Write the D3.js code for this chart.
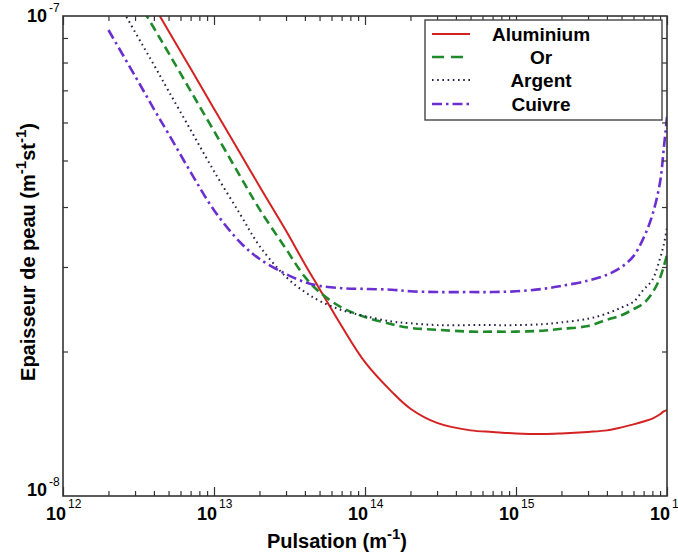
<!DOCTYPE html>
<html>
<head>
<meta charset="utf-8">
<script src="https://cdn.jsdelivr.net/npm/d3@7"></script>
<style>
  html, body { margin: 0; padding: 0; background: #fff; }
  svg { display: block; }
  text { font-family: "Liberation Sans", Arial, Helvetica, sans-serif; }
</style>
</head>
<body>
<svg id="chart" width="678" height="556"></svg>
<script>
// ---------- data ----------
const pulsation = [2e12, 3e12, 4e12, 5e12, 7e12, 1e13, 1.5e13, 2e13, 3e13, 4e13, 5e13, 7e13,
  1e14, 1.5e14, 2e14, 3e14, 5e14, 7e14, 1e15, 1.5e15, 2e15, 3e15, 4e15, 5e15, 6e15, 7e15,
  8e15, 9e15, 9.5e15, 1e16];

const aluminium = [1.53e-7, 1.23e-7, 1.05e-7, 9.31e-8, 7.77e-8, 6.41e-8, 5.16e-8, 4.42e-8,
  3.57e-8, 3.04e-8, 2.70e-8, 2.26e-8, 1.90e-8, 1.65e-8, 1.52e-8, 1.42e-8, 1.37e-8, 1.36e-8,
  1.35e-8, 1.346e-8, 1.35e-8, 1.36e-8, 1.37e-8, 1.39e-8, 1.41e-8, 1.43e-8, 1.45e-8, 1.48e-8,
  1.50e-8, 1.51e-8];

const or = [1.37e-7, 1.10e-7, 9.44e-8, 8.38e-8, 6.98e-8, 5.76e-8, 4.62e-8, 3.96e-8, 3.27e-8,
  2.86e-8, 2.66e-8, 2.47e-8, 2.36e-8, 2.28e-8, 2.24e-8, 2.22e-8, 2.20e-8, 2.20e-8, 2.20e-8,
  2.21e-8, 2.23e-8, 2.26e-8, 2.33e-8, 2.38e-8, 2.45e-8, 2.52e-8, 2.65e-8, 2.85e-8, 3.00e-8,
  3.18e-8];

const argent = [1.16e-7, 9.26e-8, 7.91e-8, 6.98e-8, 5.79e-8, 4.75e-8, 3.85e-8, 3.32e-8,
  2.86e-8, 2.66e-8, 2.55e-8, 2.44e-8, 2.37e-8, 2.31e-8, 2.29e-8, 2.27e-8, 2.27e-8, 2.27e-8,
  2.27e-8, 2.28e-8, 2.30e-8, 2.34e-8, 2.40e-8, 2.47e-8, 2.54e-8, 2.69e-8, 2.82e-8, 3.13e-8,
  3.33e-8, 3.62e-8];

const cuivre = [9.35e-8, 7.50e-8, 6.40e-8, 5.68e-8, 4.73e-8, 3.94e-8, 3.37e-8, 3.12e-8,
  2.90e-8, 2.79e-8, 2.74e-8, 2.71e-8, 2.70e-8, 2.69e-8, 2.67e-8, 2.66e-8, 2.66e-8, 2.66e-8,
  2.67e-8, 2.70e-8, 2.74e-8, 2.81e-8, 2.89e-8, 3.00e-8, 3.16e-8, 3.45e-8, 3.85e-8, 4.51e-8,
  5.26e-8, 6.16e-8];

const seriesNames = ["Aluminium", "Or", "Argent", "Cuivre"];
const xMajorExponents = [12, 13, 14, 15, 16];
const yMajorExponents = [-8, -7];
const xTitle = "Pulsation (m";
const xTitleSup = "-1";
const yTitleParts = ["Epaisseur de peau (m", "-1", "st", "-1", ")"];

// ---------- layout ----------
const svg = d3.select("#chart");
const m = { left: 63, right: 667, top: 16, bottom: 496 };

const x = d3.scaleLog().domain([1e12, 1e16]).range([m.left, m.right]);
const y = d3.scaleLog().domain([1e-8, 1e-7]).range([m.bottom, m.top]);

const styles = [
  { color: "#d42121", width: 2.0, dash: null },
  { color: "#1e8a2a", width: 2.6, dash: "9,5" },
  { color: "#23234a", width: 2.0, dash: "1.6,3.6" },
  { color: "#6b2fd1", width: 2.6, dash: "10,4,2.5,4" }
];
const seriesValues = [aluminium, or, argent, cuivre];

// minor tick values
const xMinor = [];
for (let e = 12; e < 16; e++) for (let k = 2; k <= 9; k++) xMinor.push(k * Math.pow(10, e));
const yMinor = [];
for (let k = 2; k <= 9; k++) yMinor.push(k * 1e-8);
const xMajor = xMajorExponents.map(e => Math.pow(10, e));

// ---------- curves ----------
svg.append("clipPath").attr("id", "plotclip").append("rect")
  .attr("x", m.left).attr("y", m.top)
  .attr("width", m.right - m.left).attr("height", m.bottom - m.top);

const line = d3.line()
  .x(d => x(d[0])).y(d => y(d[1]))
  .curve(d3.curveCatmullRom.alpha(0.5));

const curves = svg.append("g").attr("clip-path", "url(#plotclip)");
seriesValues.forEach((vals, i) => {
  const pts = pulsation.map((p, j) => [p, vals[j]]);
  curves.append("path")
    .attr("d", line(pts))
    .attr("fill", "none")
    .attr("stroke", styles[i].color)
    .attr("stroke-width", styles[i].width)
    .attr("stroke-dasharray", styles[i].dash)
    .attr("stroke-linecap", "butt");
});

// ---------- axes (inward ticks on four sides) ----------
const axColor = "#333";
function styleAxis(g) {
  g.select(".domain").remove();
  g.selectAll(".tick line").attr("stroke", axColor).attr("stroke-width", 1.2);
  g.selectAll("text").remove();
}
svg.append("g").attr("transform", `translate(0,${m.bottom})`)
  .call(d3.axisBottom(x).tickValues(xMinor).tickSize(-5).tickFormat("")).call(styleAxis);
svg.append("g").attr("transform", `translate(0,${m.bottom})`)
  .call(d3.axisBottom(x).tickValues(xMajor).tickSize(-9).tickFormat("")).call(styleAxis);
svg.append("g").attr("transform", `translate(0,${m.top})`)
  .call(d3.axisTop(x).tickValues(xMinor).tickSize(-5).tickFormat("")).call(styleAxis);
svg.append("g").attr("transform", `translate(0,${m.top})`)
  .call(d3.axisTop(x).tickValues(xMajor).tickSize(-9).tickFormat("")).call(styleAxis);
svg.append("g").attr("transform", `translate(${m.left},0)`)
  .call(d3.axisLeft(y).tickValues(yMinor).tickSize(-5).tickFormat("")).call(styleAxis);
svg.append("g").attr("transform", `translate(${m.right},0)`)
  .call(d3.axisRight(y).tickValues(yMinor).tickSize(-5).tickFormat("")).call(styleAxis);

// frame
svg.append("rect")
  .attr("x", m.left).attr("y", m.top)
  .attr("width", m.right - m.left).attr("height", m.bottom - m.top)
  .attr("fill", "none").attr("stroke", axColor).attr("stroke-width", 1.6);

// ---------- tick labels ----------
const xl = svg.append("g");
xMajorExponents.forEach(e => {
  const px = x(Math.pow(10, e));
  xl.append("text").attr("x", px + 3).attr("y", 520)
    .attr("text-anchor", "end").attr("font-size", 18).attr("font-weight", "bold")
    .text("10");
  xl.append("text").attr("x", px + 5).attr("y", 508)
    .attr("text-anchor", "start").attr("font-size", 12)
    .text(e);
});
const yl = svg.append("g");
yMajorExponents.forEach(e => {
  const py = y(Math.pow(10, e));
  const base = e === -7 ? py + 6 : py;
  yl.append("text").attr("x", 47).attr("y", base)
    .attr("text-anchor", "end").attr("font-size", 18).attr("font-weight", "bold")
    .text("10");
  yl.append("text").attr("x", 49).attr("y", base - 10)
    .attr("text-anchor", "start").attr("font-size", 12)
    .text(e);
});

// ---------- axis titles ----------
const xt = svg.append("text")
  .attr("x", 337).attr("y", 548).attr("text-anchor", "middle")
  .attr("font-size", 20).attr("font-weight", "bold");
xt.append("tspan").text(xTitle);
xt.append("tspan").attr("dy", -9).attr("font-size", 15).text(xTitleSup);
xt.append("tspan").attr("dy", 9).text(")");

const yt = svg.append("text")
  .attr("transform", "translate(35,252) rotate(-90)")
  .attr("text-anchor", "middle")
  .attr("font-size", 20).attr("font-weight", "bold");
yTitleParts.forEach((t, i) => {
  const sup = i % 2 === 1;
  const ts = yt.append("tspan").text(t);
  if (sup) ts.attr("dy", -9).attr("font-size", 15);
  else if (i > 0) ts.attr("dy", 9);
});

// ---------- legend ----------
const lg = svg.append("g");
lg.append("rect").attr("x", 425).attr("y", 20).attr("width", 237).attr("height", 100)
  .attr("fill", "#fff").attr("stroke", "#444").attr("stroke-width", 1.4);
const rowY = [34, 57, 80, 104];
seriesNames.forEach((name, i) => {
  lg.append("line")
    .attr("x1", 432).attr("x2", 470).attr("y1", rowY[i]).attr("y2", rowY[i])
    .attr("stroke", styles[i].color).attr("stroke-width", styles[i].width)
    .attr("stroke-dasharray", i === 1 ? "12,7" : styles[i].dash);
  lg.append("text").attr("x", 541).attr("y", rowY[i] + 7)
    .attr("text-anchor", "middle").attr("font-size", 19).attr("font-weight", "bold")
    .text(name);
});
</script>
</body>
</html>
